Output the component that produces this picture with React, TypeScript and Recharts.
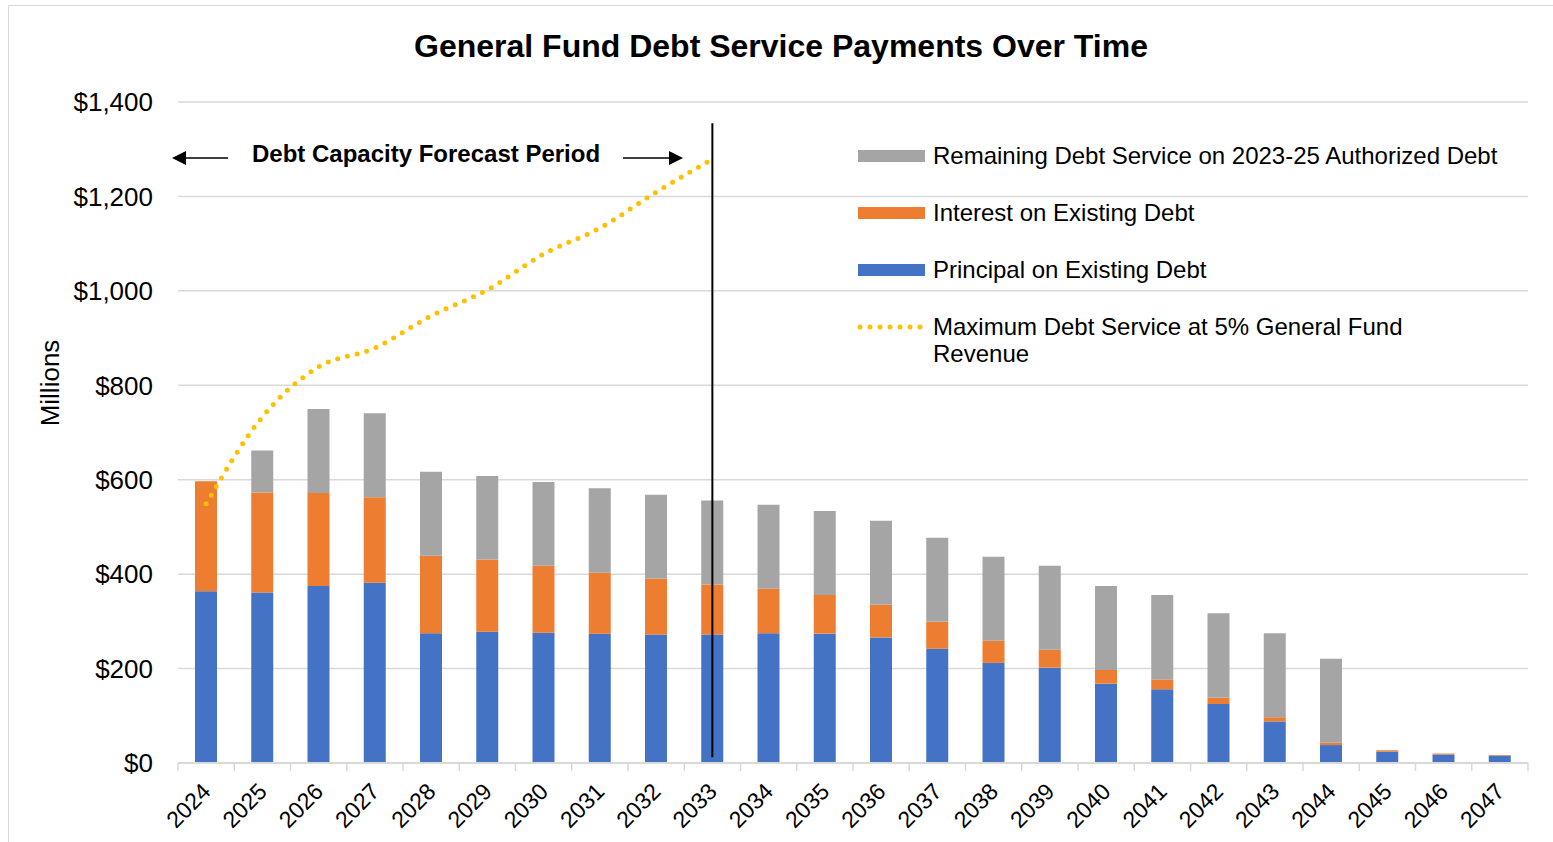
import React from "react";
import {
  ComposedChart,
  Bar,
  Line,
  XAxis,
  YAxis,
  CartesianGrid,
  ReferenceLine,
  Legend,
} from "recharts";

const FONT = '"Liberation Sans", Arial, sans-serif';

const years = [
  "2024", "2025", "2026", "2027", "2028", "2029", "2030", "2031",
  "2032", "2033", "2034", "2035", "2036", "2037", "2038", "2039",
  "2040", "2041", "2042", "2043", "2044", "2045", "2046", "2047",
];

// $ millions
const principal = [
  364, 361, 375, 382, 275, 278, 276, 274, 272, 272, 275, 274,
  266, 242, 212, 202, 168, 156, 125, 88, 38, 24, 18, 15.5,
];
const interest = [
  233, 212, 197, 181, 164, 153, 142, 129, 119, 106, 94, 82,
  69, 57, 47, 38, 29, 21, 13, 9, 5, 3, 2, 1.5,
];
const remaining = [
  0, 89, 178, 178, 178, 177, 177, 179, 177, 178, 178, 178,
  178, 178, 178, 178, 178, 179, 179, 178, 178, 0, 0, 0,
];
// 5% of General Fund revenue, forecast period only (2024-2033)
const maxDebt = [549, 733, 839, 879, 947, 1002, 1078, 1133, 1209, 1279];

const yTicks = [0, 200, 400, 600, 800, 1000, 1200, 1400];

const legendItems = [
  { label: "Remaining Debt Service on 2023-25 Authorized Debt", color: "#A5A5A5", kind: "bar" },
  { label: "Interest on Existing Debt", color: "#ED7D31", kind: "bar" },
  { label: "Principal on Existing Debt", color: "#4472C4", kind: "bar" },
  { label: "Maximum Debt Service at 5% General Fund|Revenue", color: "#FFC000", kind: "line" },
];

const data = years.map((year, i) => ({
  year,
  principal: principal[i],
  interest: interest[i],
  remaining: remaining[i],
  maxDebt: i < maxDebt.length ? maxDebt[i] : null,
}));

const W = 1553;
const H = 842;
const PLOT_LEFT = 178;
const PLOT_RIGHT = 1528;
const PLOT_TOP = 102;
const PLOT_BOTTOM = 763;
const bandW = (PLOT_RIGHT - PLOT_LEFT) / years.length;

function XTick(props: any) {
  const { x, y, payload, index } = props;
  const half = bandW / 2;
  return (
    <g>
      <line x1={x - half} y1={y} x2={x - half} y2={y + 8} stroke="#d9d9d9" strokeWidth={1.5} />
      {index === years.length - 1 && (
        <line x1={x + half} y1={y} x2={x + half} y2={y + 8} stroke="#d9d9d9" strokeWidth={1.5} />
      )}
      <text
        transform={`translate(${x + 6},${y + 30}) rotate(-45)`}
        textAnchor="end"
        fontSize={23}
        fontFamily={FONT}
        fill="#000"
      >
        {payload.value}
      </text>
    </g>
  );
}

function LegendBox() {
  return (
    <svg width={690} height={240} style={{ overflow: "visible" }}>
      {legendItems.map((item, i) => {
        const cy = 26 + i * 57;
        const lines = item.label.split("|");
        return (
          <g key={item.label}>
            {item.kind === "bar" ? (
              <rect x={18} y={cy - 6} width={67} height={12} fill={item.color} />
            ) : (
              <line
                x1={20}
                y1={cy}
                x2={82}
                y2={cy}
                stroke={item.color}
                strokeWidth={5}
                strokeDasharray="0 10"
                strokeLinecap="round"
              />
            )}
            {lines.map((t, j) => (
              <text
                key={t}
                x={93}
                y={cy + 8 + j * 27}
                fontSize={24}
                fontFamily={FONT}
                fill="#000"
              >
                {t}
              </text>
            ))}
          </g>
        );
      })}
    </svg>
  );
}

export default function App() {
  return (
    <div style={{ position: "absolute", left: 0, top: 0, width: W, height: H, background: "#fff", overflow: "hidden" }}>
      <div
        style={{
          position: "absolute",
          left: 8,
          top: 5,
          width: W,
          height: H,
          borderLeft: "1.5px solid #d9d9d9",
          borderTop: "1.5px solid #d9d9d9",
        }}
      />
      <ComposedChart
        width={W}
        height={H}
        data={data}
        margin={{ top: PLOT_TOP, right: W - PLOT_RIGHT, bottom: 0, left: 0 }}
        barCategoryGap={0}
        style={{ position: "absolute", left: 0, top: 0 }}
      >
        <CartesianGrid vertical={false} stroke="#d9d9d9" strokeWidth={1.5} />
        <XAxis
          dataKey="year"
          interval={0}
          height={H - PLOT_BOTTOM}
          tickLine={false}
          tickSize={0}
          tickMargin={0}
          axisLine={{ stroke: "#d9d9d9", strokeWidth: 2 }}
          tick={<XTick />}
        />
        <YAxis
          width={PLOT_LEFT}
          domain={[0, 1400]}
          ticks={yTicks}
          axisLine={false}
          tickLine={false}
          tickSize={0}
          tickMargin={25}
          tick={{ fontSize: 26, fontFamily: FONT, fill: "#000" }}
          tickFormatter={(v) => `$${Number(v).toLocaleString("en-US")}`}
        />
        <Legend
          layout="vertical"
          align="center"
          verticalAlign="middle"
          content={() => <LegendBox />}
          wrapperStyle={{ left: 840, top: 130, width: 690, height: 240 }}
        />
        <Bar dataKey="principal" stackId="a" fill="#4472C4" barSize={22} isAnimationActive={false} />
        <Bar dataKey="interest" stackId="a" fill="#ED7D31" barSize={22} isAnimationActive={false} />
        <Bar dataKey="remaining" stackId="a" fill="#A5A5A5" barSize={22} isAnimationActive={false} />
        <Line
          dataKey="maxDebt"
          type="monotone"
          stroke="#FFC000"
          strokeWidth={5}
          strokeDasharray="0 10"
          strokeLinecap="round"
          dot={false}
          activeDot={false}
          isAnimationActive={false}
        />
        <ReferenceLine
          segment={[
            { x: "2033", y: 1355 },
            { x: "2033", y: 12 },
          ]}
          stroke="#000"
          strokeWidth={2}
        />
      </ComposedChart>
      <svg
        width={W}
        height={H}
        style={{ position: "absolute", left: 0, top: 0, pointerEvents: "none" }}
      >
        <text x={781} y={57} textAnchor="middle" fontSize={32} fontWeight="bold" fontFamily={FONT} fill="#000">
          General Fund Debt Service Payments Over Time
        </text>
        <text
          transform="translate(59,383) rotate(-90)"
          textAnchor="middle"
          fontSize={26}
          fontFamily={FONT}
          fill="#000"
        >
          Millions
        </text>
        <text x={252} y={162} fontSize={24} fontWeight="bold" fontFamily={FONT} fill="#000">
          Debt Capacity Forecast Period
        </text>
        <line x1={228} y1={158} x2={184} y2={158} stroke="#000" strokeWidth={1.5} />
        <polygon points="172,158 186,151 186,165" fill="#000" />
        <line x1={623} y1={158} x2={671} y2={158} stroke="#000" strokeWidth={1.5} />
        <polygon points="683,158 669,151 669,165" fill="#000" />
      </svg>
    </div>
  );
}
